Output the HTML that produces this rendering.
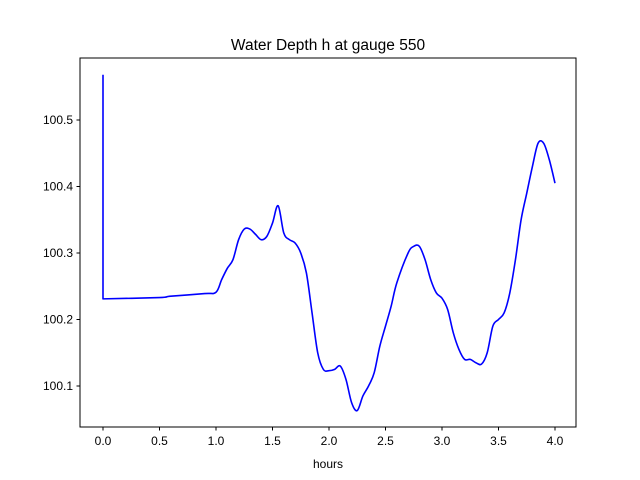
<!DOCTYPE html>
<html><head><meta charset="utf-8"><style>
body{margin:0;background:#fff;}
svg{display:block;font-family:"Liberation Sans","DejaVu Sans",sans-serif;}
</style></head><body>
<svg id="chart" width="640" height="480" viewBox="0 0 640 480">
<rect x="0" y="0" width="640" height="480" fill="#fff"/>
<text x="328" y="50" font-size="15.5" text-anchor="middle">Water Depth h at gauge 550</text>
<g id="plot"></g>
<rect x="80" y="58" width="496" height="369" fill="none" stroke="#000" stroke-width="1"/>
<text x="328" y="468" font-size="12" text-anchor="middle">hours</text>
</svg>
<script>
const xs=[0,0,0.5,0.6,0.9,1.0,1.05,1.1,1.15,1.2,1.25,1.3,1.35,1.4,1.45,1.5,1.55,1.6,1.65,1.7,1.75,1.8,1.85,1.9,1.95,2.0,2.05,2.1,2.15,2.2,2.25,2.3,2.35,2.4,2.45,2.5,2.55,2.6,2.7,2.75,2.8,2.85,2.9,2.95,3.0,3.05,3.1,3.15,3.2,3.25,3.3,3.35,3.4,3.45,3.5,3.55,3.6,3.65,3.7,3.75,3.8,3.85,3.9,3.95,4.0];
const ys=[100.568,100.231,100.233,100.235,100.239,100.241,100.26,100.277,100.29,100.32,100.336,100.336,100.328,100.320,100.325,100.345,100.371,100.33,100.32,100.315,100.3,100.27,100.21,100.15,100.125,100.123,100.125,100.13,100.11,100.075,100.063,100.085,100.1,100.12,100.16,100.19,100.22,100.255,100.3,100.31,100.31,100.29,100.26,100.24,100.232,100.215,100.18,100.155,100.14,100.14,100.135,100.133,100.15,100.19,100.2,100.21,100.24,100.29,100.35,100.39,100.43,100.465,100.465,100.44,100.405];
const xTicks=[0,0.5,1,1.5,2,2.5,3,3.5,4];
const xTickLabels=["0.0","0.5","1.0","1.5","2.0","2.5","3.0","3.5","4.0"];
const yTicks=[100.1,100.2,100.3,100.4,100.5];
const yTickLabels=["100.1","100.2","100.3","100.4","100.5"];
const X=v=>103+(v-0)*113;
const Y=v=>120-(v-100.5)*665;
const NS="http://www.w3.org/2000/svg";
const g=document.getElementById('plot');
function mk(t,a){const e=document.createElementNS(NS,t);for(const k in a)e.setAttribute(k,a[k]);g.appendChild(e);return e;}
xTicks.forEach((v,i)=>{
 const l=mk('line',{x1:X(v),x2:X(v),y1:427,y2:430.5,stroke:'#000'});
 
 
 const t=mk('text',{x:X(v),y:445,'font-size':12,'text-anchor':'middle'});t.textContent=xTickLabels[i];
 
 
});
yTicks.forEach((v,i)=>{
 const l=mk('line',{x1:76.5,x2:80,y1:Y(v),y2:Y(v),stroke:'#000'});
 
 
 const t=mk('text',{x:73,y:Y(v)+4,'font-size':12,'text-anchor':'end'});t.textContent=yTickLabels[i];
 
 
});
const P=xs.map((x,i)=>[X(x),Y(ys[i])]);
let d='M'+P[0][0]+','+P[0][1]+' L'+P[1][0]+','+P[1][1];
for(let i=1;i<P.length-1;i++){
 const p0=P[Math.max(1,i-1)],p1=P[i],p2=P[i+1],p3=P[Math.min(P.length-1,i+2)];
 const c1=[p1[0]+(p2[0]-p0[0])/6,p1[1]+(p2[1]-p0[1])/6];
 const c2=[p2[0]-(p3[0]-p1[0])/6,p2[1]-(p3[1]-p1[1])/6];
 d+=' C'+c1.join(',')+' '+c2.join(',')+' '+p2.join(',');
}
const p=mk('path',{d:d,fill:'none',stroke:'#0000ff','stroke-width':1.6,'stroke-linejoin':'round'});


</script>
</body></html>
